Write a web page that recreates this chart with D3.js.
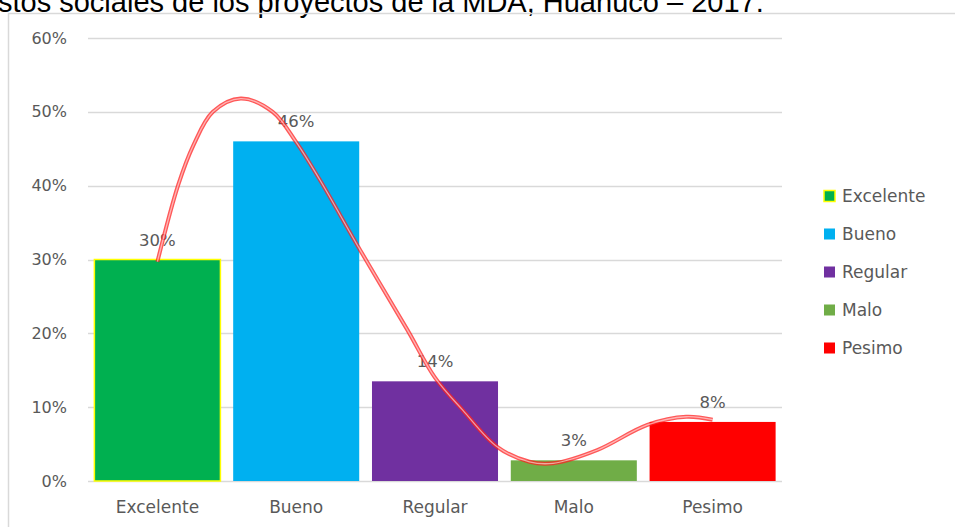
<!doctype html>
<html>
<head>
  <meta charset="utf-8" />
  <title>Proyectos MDA</title>
  <script src="https://d3js.org/d3.v7.min.js"></script>
  <style>
    body { margin: 0; background: #fff; }
    svg { display: block; font-family: "DejaVu Sans", sans-serif; }
  </style>
</head>
<body>
  <svg></svg>
  <script>
    var width = 955,
      height = 527;

    // datos
    var categories = ["Excelente", "Bueno", "Regular", "Malo", "Pesimo"];
    var values = [0.30, 0.46, 0.135, 0.028, 0.08];
    var labels = ["30%", "46%", "14%", "3%", "8%"];
    var colors = ["#00B050", "#00B0F0", "#7030A0", "#70AD47", "#FF0000"];
    var yTicks = [0, 0.1, 0.2, 0.3, 0.4, 0.5, 0.6];
    // curva dibujada a mano: [posicion de categoria, valor]
    var curveT = [0, 0.15, 0.26, 0.40, 0.60, 0.83, 1.00, 1.17, 1.46, 1.80, 2.00, 2.20, 2.45, 2.68, 2.85, 3.17, 3.53, 3.81, 4.00];
    var curveV = [0.297, 0.401, 0.455, 0.500, 0.518, 0.500, 0.459, 0.408, 0.313, 0.205, 0.140, 0.096, 0.046, 0.026, 0.024, 0.042, 0.076, 0.087, 0.083];

    var svg = d3.select("svg").attr("width", width).attr("height", height);

    // titulo cortado arriba
    svg.append("text")
      .attr("x", -2)
      .attr("y", 12)
      .style("font-family", "'Liberation Sans', Arial, sans-serif")
      .style("font-size", "29px")
      .style("fill", "#000")
      .text("stos sociales de los proyectos de la MDA, Huanuco – 2017.");

    // marco
    svg.append("path")
      .attr("d", "M8.5," + height + "V13.5H" + width)
      .style("fill", "none")
      .style("stroke", "#d9d9d9")
      .style("stroke-width", 1.5);

    var x = d3.scaleBand()
      .domain(categories)
      .range([88, 782])
      .paddingInner(0.092)
      .paddingOuter(0.046);

    var y = d3.scaleLinear()
      .domain([0, 0.6])
      .range([481, 38]);

    var xc = d3.scaleLinear()
      .domain([0, categories.length - 1])
      .range([x(categories[0]) + x.bandwidth() / 2, x(categories[categories.length - 1]) + x.bandwidth() / 2]);

    // cuadricula
    svg.append("g")
      .selectAll("line")
      .data(yTicks)
      .enter()
      .append("line")
      .attr("x1", 88)
      .attr("x2", 782)
      .attr("y1", function(d) { return Math.round(y(d)) + 0.5; })
      .attr("y2", function(d) { return Math.round(y(d)) + 0.5; })
      .style("stroke", "#d9d9d9")
      .style("stroke-width", 1.5);

    svg.append("g")
      .selectAll("text")
      .data(yTicks)
      .enter()
      .append("text")
      .attr("x", 67)
      .attr("y", function(d) { return y(d); })
      .attr("dy", "0.35em")
      .attr("text-anchor", "end")
      .style("font-size", "16px")
      .style("fill", "#595959")
      .text(d3.format(".0%"));

    // barras
    svg.append("g")
      .selectAll("rect")
      .data(values)
      .enter()
      .append("rect")
      .attr("x", function(d, i) { return x(categories[i]); })
      .attr("y", function(d) { return y(d); })
      .attr("width", x.bandwidth())
      .attr("height", function(d) { return y(0) - y(d); })
      .style("fill", function(d, i) { return colors[i]; })
      .style("stroke", function(d, i) { return i == 0 ? "#FFFF00" : "none"; })
      .style("stroke-width", 1.5);

    // etiquetas de datos
    svg.append("g")
      .selectAll("text")
      .data(values)
      .enter()
      .append("text")
      .attr("x", function(d, i) { return x(categories[i]) + x.bandwidth() / 2; })
      .attr("y", function(d) { return y(d) - 14; })
      .attr("text-anchor", "middle")
      .style("font-size", "16.5px")
      .style("fill", "#595959")
      .text(function(d, i) { return labels[i]; });

    // eje x
    svg.append("g")
      .selectAll("text")
      .data(categories)
      .enter()
      .append("text")
      .attr("x", function(d) { return x(d) + x.bandwidth() / 2; })
      .attr("y", 513)
      .attr("text-anchor", "middle")
      .style("font-size", "17px")
      .style("fill", "#595959")
      .text(function(d) { return d; });

    // curva roja doble
    var line = d3.line()
      .x(function(d, i) { return xc(curveT[i]); })
      .y(function(d) { return y(d); })
      .curve(d3.curveCatmullRom);

    svg.append("path")
      .attr("d", line(curveV))
      .style("fill", "none")
      .style("stroke", "#ff2020")
      .style("stroke-opacity", 0.75)
      .style("stroke-width", 4);

    svg.append("path")
      .attr("d", line(curveV))
      .style("fill", "none")
      .style("stroke", "#ffffff")
      .style("stroke-opacity", 0.55)
      .style("stroke-width", 1.3);

    // leyenda
    var legend = svg.append("g")
      .selectAll("g")
      .data(categories)
      .enter()
      .append("g")
      .attr("transform", function(d, i) { return "translate(824," + (196 + i * 38) + ")"; });

    legend.append("rect")
      .attr("x", 0)
      .attr("y", -5.5)
      .attr("width", 11)
      .attr("height", 11)
      .style("fill", function(d, i) { return colors[i]; })
      .style("stroke", function(d, i) { return i == 0 ? "#FFFF00" : "none"; })
      .style("stroke-width", 1.5);

    legend.append("text")
      .attr("x", 18)
      .attr("y", 0)
      .attr("dy", "0.35em")
      .style("font-size", "17px")
      .style("fill", "#595959")
      .text(function(d) { return d; });
  </script>
</body>
</html>
